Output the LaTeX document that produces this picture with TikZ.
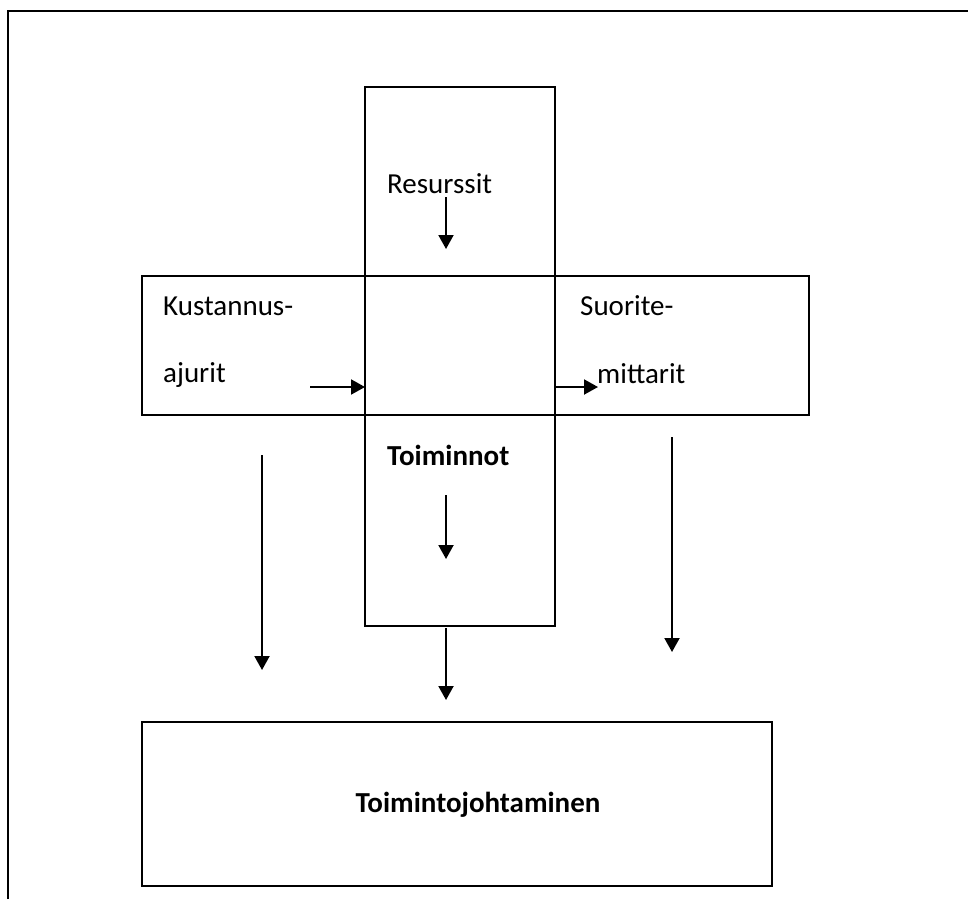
\documentclass[tikz,border=0pt]{standalone}
\usepackage{fontspec}
\setmainfont{Carlito}
\usetikzlibrary{arrows.meta}
\begin{document}
\begin{tikzpicture}[x=1pt,y=-1pt,
  boxline/.style={draw=black,line width=2pt,minimum width=#1,inner sep=0pt},
  arr/.style={line width=2pt,-{Triangle[length=14pt,width=15pt]}},
  lbl/.style={anchor=base west,inner sep=0pt,font=\fontsize{29}{34}\selectfont},
  blbl/.style={lbl,font=\fontsize{29}{34}\selectfont\bfseries}]
\useasboundingbox (0,0) rectangle (968,899);
% outer frame (top and left only)
\coordinate (fl) at (7.5,899);
\coordinate (ftl) at (7.5,11);
\coordinate (ftr) at (968,11);
\draw[line width=2pt] (fl) -- (ftl) -- (ftr);
% boxes
\node[boxline=667pt,minimum height=139pt] (hbox) at (475.5,345.5) {};
\node[boxline=190pt,minimum height=539pt] (vbox) at (460,356.5) {};
\node[boxline=630pt,minimum height=164pt] (bbox) at (457,804) {};
% texts
\node[lbl] (res) at (387,193) {Resurssit};
\node[lbl] (kus) at (163,315) {Kustannus-};
\node[lbl] (aju) at (163,382) {ajurit};
\node[lbl] (suo) at (580,315) {Suorite-};
\node[lbl] (mit) at (597,383) {mittarit};
\node[blbl] (toi) at (387,465) {Toiminnot};
\node[anchor=base,inner sep=0pt,font=\fontsize{29}{34}\selectfont\bfseries] (tj) at (478,812) {Toimintojohtaminen};
% arrow coordinates
\coordinate (r1) at (446,197); \coordinate (r2) at (446,249);
\coordinate (k1) at (310,387); \coordinate (k2) at (365,387);
\coordinate (s1) at (555,387); \coordinate (s2) at (598,387);
\coordinate (l1) at (262,455); \coordinate (l2) at (262,670);
\coordinate (t1) at (446,495); \coordinate (t2) at (446,559);
\coordinate (m1) at (446,628); \coordinate (m2) at (446,700);
\coordinate (q1) at (672,437); \coordinate (q2) at (672,652);
\draw[arr] (r1) -- (r2);
\draw[arr] (k1) -- (k2);
\draw[arr] (s1) -- (s2);
\draw[arr] (l1) -- (l2);
\draw[arr] (t1) -- (t2);
\draw[arr] (m1) -- (m2);
\draw[arr] (q1) -- (q2);
\end{tikzpicture}
\end{document}
